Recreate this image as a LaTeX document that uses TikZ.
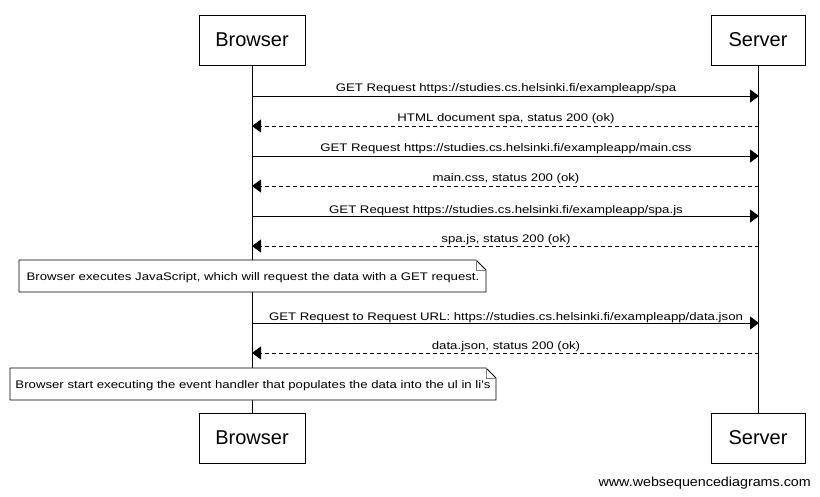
\documentclass[tikz,border=0pt]{standalone}
\usepackage{fontspec}
\setmainfont{Liberation Sans}
\newfontfamily\lblfont[FakeStretch=1.2]{Liberation Sans}
\newfontfamily\ftfont[FakeStretch=1.1]{Liberation Sans}
\usetikzlibrary{arrows.meta}
\begin{document}
\begin{tikzpicture}[x=1pt,y=-1pt,
  actor/.style={draw,line width=0.8pt,fill=white,minimum height=50pt,inner sep=0pt,font=\fontsize{20}{22}\selectfont},
  msg/.style={line width=0.8pt,-{Triangle[length=9pt,width=13pt]}},
  reply/.style={msg,dash pattern=on 4pt off 3pt},
  lbl/.style={font=\lblfont\fontsize{11}{13}\selectfont,inner sep=0pt,anchor=base},
  life/.style={line width=0.8pt},
  notetext/.style={font=\lblfont\fontsize{11}{13}\selectfont,inner sep=0pt,anchor=base}]
\useasboundingbox (0,0) rectangle (820,496);
\fill[white] (0,0) rectangle (820,496);
% actors
\node[actor,minimum width=106pt] (bt) at (252,40) {Browser};
\node[actor,minimum width=94pt] (st) at (758,40) {Server};
\node[actor,minimum width=106pt] (bb) at (252,438) {Browser};
\node[actor,minimum width=94pt] (sb) at (758,438) {Server};
\draw[life] (bt.south) -- (bb.north);
\draw[life] (st.south) -- (sb.north);
% coordinates on lifelines
\foreach \i/\y in {1/96,2/126,3/156,4/186,5/216,6/246,7/323,8/353}{
  \coordinate (b\i) at (252,\y);
  \coordinate (s\i) at (759,\y);
}
\draw[msg] (b1) -- (s1);
\node[lbl] (l1) at (506,91) {GET Request https://studies.cs.helsinki.fi/exampleapp/spa};
\draw[reply] (s2) -- (b2);
\node[lbl] (l2) at (506,121) {HTML document spa, status 200 (ok)};
\draw[msg] (b3) -- (s3);
\node[lbl] (l3) at (506,151) {GET Request https://studies.cs.helsinki.fi/exampleapp/main.css};
\draw[reply] (s4) -- (b4);
\node[lbl] (l4) at (506,181) {main.css, status 200 (ok)};
\draw[msg] (b5) -- (s5);
\node[lbl] (l5) at (506,213) {GET Request https://studies.cs.helsinki.fi/exampleapp/spa.js};
\draw[reply] (s6) -- (b6);
\node[lbl] (l6) at (506,242) {spa.js, status 200 (ok)};
% note 1
\filldraw[fill=white,line width=0.8pt] (19,260) -- (476,260) -- (486,270) -- (486,292) -- (19,292) -- cycle;
\draw[gray,line width=0.8pt] (476,260) -- (476,270) -- (486,270);
\node[notetext] (n1) at (253,280) {Browser executes JavaScript, which will request the data with a GET request.};
\draw[msg] (b7) -- (s7);
\node[lbl] (l7) at (506,320) {GET Request to Request URL: https://studies.cs.helsinki.fi/exampleapp/data.json};
\draw[reply] (s8) -- (b8);
\node[lbl] (l8) at (506,349) {data.json, status 200 (ok)};
% note 2
\filldraw[fill=white,line width=0.8pt] (10,368) -- (486,368) -- (496,378) -- (496,400) -- (10,400) -- cycle;
\draw[gray,line width=0.8pt] (486,368) -- (486,378) -- (496,378);
\node[notetext] (n2) at (253,388) {Browser start executing the event handler that populates the data into the ul in li's};
% footer
\node[font=\ftfont\fontsize{13}{15}\selectfont,anchor=base east,inner sep=0pt] (ft) at (811,486) {www.websequencediagrams.com};
\end{tikzpicture}
\end{document}
